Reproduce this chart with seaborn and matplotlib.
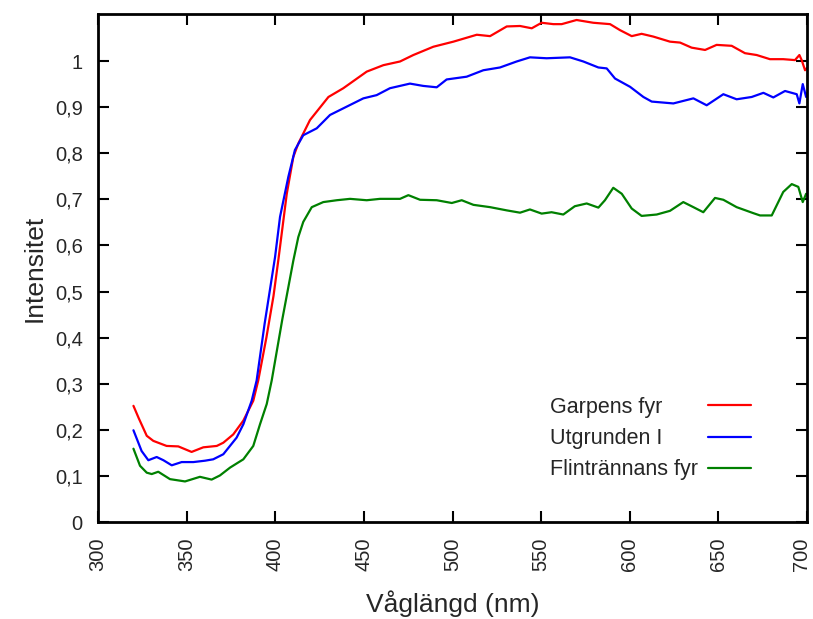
import numpy as np
import pandas as pd
import matplotlib
matplotlib.use("Agg")
import matplotlib.pyplot as plt
import matplotlib.transforms as mtransforms
import seaborn as sns

# Garpens fyr
red_x = [320, 323, 327.5, 331.2, 338.7, 345.3, 352.8, 359.4, 367, 370.7, 376.3, 382, 387.6, 390.4,
         395, 399, 401.7, 406.5, 410.2, 413, 419.6, 430, 438.4, 451.6, 461, 470.4, 477.9, 489.2,
         500.5, 513.7, 521.2, 530.6, 538.1, 544.7, 550.3, 556.9, 561.6, 570, 579.4, 588.9, 594.5,
         601.1, 606.7, 613.3, 622.7, 628.4, 634.9, 642.5, 649, 657.5, 665, 671.6, 679.1, 686.6,
         693.2, 695.7, 697, 698.9, 700]
red_y = [0.252, 0.225, 0.187, 0.176, 0.165, 0.164, 0.152, 0.162, 0.165, 0.172, 0.19, 0.22, 0.263, 0.307,
         0.40, 0.49, 0.567, 0.712, 0.792, 0.821, 0.872, 0.922, 0.941, 0.977, 0.991, 0.999, 1.013, 1.031,
         1.042, 1.057, 1.054, 1.075, 1.076, 1.071, 1.083, 1.08, 1.08, 1.089, 1.083, 1.08, 1.067,
         1.054, 1.059, 1.053, 1.042, 1.04, 1.029, 1.024, 1.035, 1.033, 1.017, 1.013, 1.004, 1.004,
         1.002, 1.013, 1.002, 0.98, 0.985]

# Utgrunden I
blue_x = [320, 324.6, 328.4, 333.1, 336.9, 341.6, 347.2, 353.8, 360.4, 365, 370.7, 378.2, 382, 386.7,
          389.5, 394, 399.9, 402.7, 407.4, 411.1, 415.8, 423.4, 430.9, 440.3, 449.7, 457.2, 464.7,
          476, 483.5, 491.1, 496.7, 508, 517.4, 526.8, 536.2, 543.7, 553.1, 566.3, 573.8, 582.3,
          587, 591.7, 600.2, 607.7, 612.4, 624.6, 635.9, 643.4, 652.8, 660.3, 668.8, 675.4, 681,
          687.6, 694.2, 695.7, 697.6, 699.5, 700]
blue_y = [0.199, 0.154, 0.134, 0.141, 0.134, 0.123, 0.13, 0.13, 0.133, 0.136, 0.147, 0.183, 0.212, 0.263,
          0.307, 0.43, 0.575, 0.662, 0.749, 0.807, 0.839, 0.854, 0.883, 0.901, 0.919, 0.926, 0.941,
          0.951, 0.946, 0.943, 0.96, 0.966, 0.98, 0.986, 0.999, 1.008, 1.006, 1.008, 0.999, 0.986,
          0.984, 0.962, 0.944, 0.922, 0.912, 0.908, 0.919, 0.904, 0.928, 0.917, 0.922, 0.931, 0.921,
          0.935, 0.928, 0.908, 0.95, 0.922, 0.93]

# Flintrännans fyr
green_x = [320, 323.7, 327.5, 330.3, 334, 340.6, 349.1, 357.5, 364.1, 368.8, 374.5, 382, 387.6, 391.4,
           395.2, 398, 404, 410.2, 413, 415.8, 420.6, 427.1, 434.7, 442.2, 451.6, 459.1, 470.4, 475.1,
           481.7, 491.1, 499.6, 505.2, 511.8, 521.2, 530.6, 538.1, 543.7, 550.3, 555.9, 562.5, 569,
           575.7, 582.3, 586, 590.7, 595.5, 601.1, 606.7, 615.2, 622.7, 630.2, 635.9, 641.5, 648.1,
           652.8, 660.3, 669.7, 673.5, 680.1, 686.6, 691.4, 695.1, 697.6, 699.5]
green_y = [0.159, 0.122, 0.107, 0.104, 0.109, 0.093, 0.088, 0.098, 0.092, 0.101, 0.118, 0.136, 0.165, 0.212,
           0.256, 0.307, 0.44, 0.567, 0.618, 0.651, 0.683, 0.694, 0.698, 0.701, 0.698, 0.701, 0.701, 0.709,
           0.699, 0.698, 0.692, 0.698, 0.688, 0.683, 0.676, 0.671, 0.678, 0.669, 0.672, 0.667, 0.685,
           0.691, 0.682, 0.698, 0.725, 0.712, 0.680, 0.664, 0.667, 0.675, 0.694, 0.683, 0.672, 0.703,
           0.699, 0.683, 0.670, 0.665, 0.665, 0.716, 0.733, 0.727, 0.694, 0.712]

series_names = ["Garpens fyr", "Utgrunden I", "Flintrännans fyr"]
colors = ["#ff0000", "#0000ff", "#008000"]
x_ticks = [300, 350, 400, 450, 500, 550, 600, 650, 700]
y_ticks = [0, 0.1, 0.2, 0.3, 0.4, 0.5, 0.6, 0.7, 0.8, 0.9, 1.0]
y_tick_labels = ["0", "0,1", "0,2", "0,3", "0,4", "0,5", "0,6", "0,7", "0,8", "0,9", "1"]

frames = []
for name, xs, ys in zip(series_names, [red_x, blue_x, green_x], [red_y, blue_y, green_y]):
    frames.append(pd.DataFrame({"x": xs, "y": ys, "serie": name}))
df = pd.concat(frames, ignore_index=True)

sns.set_style("white")
plt.rcParams["font.family"] = ["Liberation Sans", "DejaVu Sans"]

DPI = 100
fig = plt.figure(figsize=(8.13, 6.19), dpi=DPI)
ax = fig.add_axes([98 / 813, 97 / 619, 709 / 813, 508 / 619])

sns.lineplot(data=df, x="x", y="y", hue="serie", hue_order=series_names,
             palette=colors, linewidth=1.6, ax=ax, sort=False, estimator=None)

ax.set_xlim(300, 700)
ax.set_ylim(0, 1.102)
ax.set_xticks(x_ticks)
ax.set_xticklabels([str(t) for t in x_ticks], rotation=90, fontsize=14.5)
ax.set_yticks(y_ticks)
ax.set_yticklabels(y_tick_labels, fontsize=14.5)
ax.tick_params(direction="in", length=8, width=1.5, top=True, right=True,
               bottom=True, left=True, pad=11, color="black")
for s in ax.spines.values():
    s.set_linewidth(2)
    s.set_color("black")

# keep the last x tick label ("700") inside the figure edge
last_lbl = ax.get_xticklabels()[-1]
last_lbl.set_transform(last_lbl.get_transform() +
                       mtransforms.ScaledTranslation(-4 / 72, 0, fig.dpi_scale_trans))

ax.set_xlabel("Våglängd (nm)", fontsize=19, labelpad=14)
ax.set_ylabel("Intensitet", fontsize=19, labelpad=6)

handles, labels = ax.get_legend_handles_labels()
leg_fs = 15.5
base_pad = 0.45
leg = ax.legend(handles, labels, loc="upper left", bbox_to_anchor=(0.6375, 0.246),
                frameon=False, markerfirst=False, fontsize=leg_fs, handlelength=2.0,
                handletextpad=base_pad, labelspacing=0.47, borderpad=0, borderaxespad=0)

# left-align the legend texts while keeping the line samples in one column
fig.canvas.draw()
renderer = fig.canvas.get_renderer()
texts = leg.get_texts()
widths = [t.get_window_extent(renderer).width for t in texts]
maxw = max(widths)
items = []
for col in leg._legend_handle_box.get_children():
    items.extend(col.get_children())
for item, w in zip(items, widths):
    item.sep = base_pad * leg_fs + (maxw - w) * 72.0 / DPI

fig.savefig("out.png", dpi=DPI)
